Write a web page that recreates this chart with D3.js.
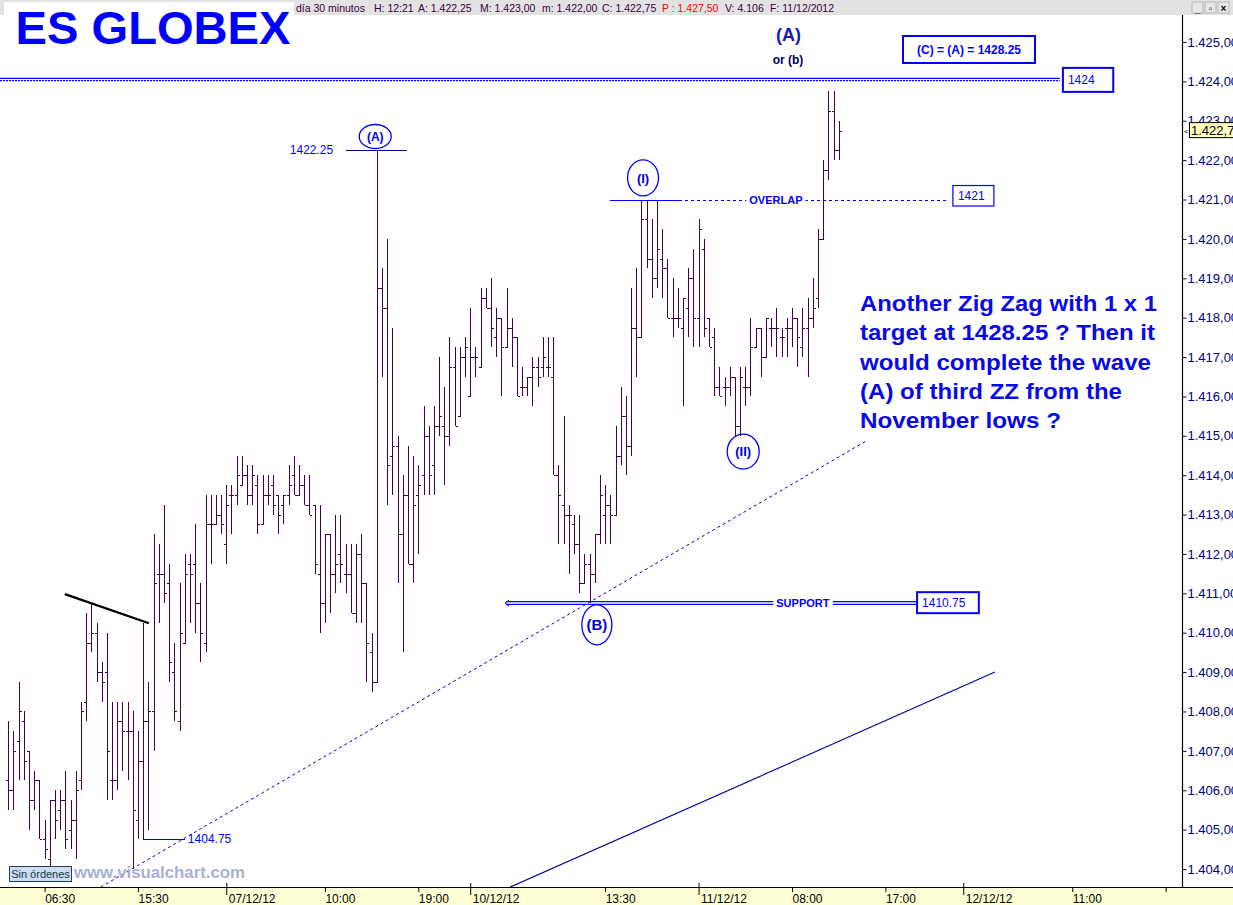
<!DOCTYPE html>
<html>
<head>
<meta charset="utf-8">
<script src="https://cdn.jsdelivr.net/npm/d3@7"></script>
<style>
  html, body { margin: 0; padding: 0; background: #fff; overflow: hidden; }
  svg { display: block; font-family: "Liberation Sans", Arial, sans-serif; }
</style>
</head>
<body>
<svg id="chart" width="1233" height="905"></svg>
<script>
// 30 minute OHLC bars, ES Globex, 06/12/12 03:00 -> 11/12/12 ~12:00
const opens = [
  1406.25,1406.0,1407.25,1407.75,1407.0,1405.75,1406.25,1404.75,1404.25,1405.75,
  1405.5,1405.75,1405.0,1405.25,1406.25,1408.25,1409.75,1410.0,1409.0,1409.0,
  1406.25,1406.25,1407.75,1407.5,1407.5,1405.25,1406.75,1407.75,1408.0,1411.5,
  1411.5,1411.25,1409.0,1407.75,1409.75,1411.75,1411.75,1410.75,1409.75,1412.75,
  1412.75,1413.0,1412.25,1413.5,1413.5,1413.75,1414.0,1413.5,1413.75,1412.75,
  1413.5,1413.75,1413.5,1413.25,1413.5,1414.0,1413.5,1413.75,1413.25,1413.25,
  1411.5,1410.75,1412.5,1411.5,1412.0,1411.5,1411.5,1410.5,1412.0,1411.25,
  1409.5,1408.75,1418.75,1418.25,1414.5,1414.75,1412.5,1413.5,1411.75,1413.5,
  1414.0,1415.0,1414.25,1415.25,1415.25,1415.0,1416.75,1415.5,1417.0,1416.0,
  1417.0,1416.75,1418.5,1418.25,1417.5,1418.0,1417.25,1417.75,1417.5,1416.25,
  1416.25,1416.5,1416.75,1416.75,1416.75,1416.5,1414.0,1413.25,1413.0,1412.75,
  1412.25,1411.25,1411.75,1411.5,1412.5,1413.0,1413.25,1413.0,1414.5,1415.5,
  1414.75,1417.75,1417.5,1420.5,1419.5,1419.0,1419.5,1419.25,1418.0,1418.0,
  1417.75,1418.25,1419.0,1418.0,1419.75,1418.0,1417.5,1416.25,1416.25,1416.25,
  1416.5,1415.25,1416.25,1416.25,1417.25,1417.75,1417.0,1417.75,1417.75,1417.5,
  1417.75,1417.75,1418.0,1417.25,1417.75,1418.0,1418.5,1420.0,1421.75,1423.25,
  1422.25
];
const highs = [
  1407.75,1407.5,1408.75,1408.0,1407.0,1406.5,1406.25,1405.25,1405.75,1406.0,
  1406.0,1406.5,1405.75,1406.5,1408.25,1410.5,1410.75,1410.25,1409.25,1410.0,
  1408.25,1408.25,1408.25,1408.25,1408.0,1407.5,1410.25,1408.75,1412.5,1412.25,
  1413.25,1411.75,1409.75,1411.25,1412.0,1412.0,1412.75,1411.25,1413.5,1413.5,
  1413.5,1413.5,1413.75,1413.75,1414.5,1414.5,1414.25,1414.25,1414.0,1414.0,
  1414.0,1414.0,1413.5,1413.5,1414.25,1414.5,1414.25,1414.0,1414.0,1413.25,
  1413.25,1412.5,1412.5,1413.0,1413.0,1412.25,1412.25,1412.25,1412.5,1411.25,
  1410.0,1422.25,1419.25,1420.0,1417.75,1415.0,1414.0,1414.75,1414.5,1414.25,
  1415.75,1415.25,1415.75,1417.0,1416.25,1417.5,1417.25,1417.25,1417.5,1418.25,
  1417.25,1418.75,1418.75,1419.0,1418.25,1418.0,1418.75,1418.0,1417.5,1416.75,
  1416.5,1417.0,1417.0,1417.5,1417.5,1417.5,1414.25,1415.5,1413.25,1413.0,
  1413.0,1412.0,1412.0,1412.5,1414.0,1413.75,1413.5,1415.25,1416.25,1416.0,
  1418.75,1419.25,1421.0,1421.0,1420.5,1421.0,1420.25,1419.5,1419.0,1418.75,
  1418.5,1419.25,1419.75,1420.5,1420.0,1418.0,1417.75,1416.75,1416.5,1416.75,
  1416.5,1416.75,1416.75,1418.0,1417.75,1417.75,1418.0,1418.0,1418.25,1417.75,
  1418.0,1418.25,1418.0,1418.25,1418.5,1419.0,1420.25,1422.0,1423.75,1423.75,
  1423.0
];
const lows = [
  1405.5,1405.5,1406.25,1406.25,1405.0,1405.5,1404.75,1404.25,1404.0,1404.75,
  1405.0,1404.5,1404.5,1404.25,1406.0,1407.75,1409.5,1408.75,1408.25,1405.75,
  1405.75,1406.0,1406.5,1406.25,1404.0,1404.75,1404.75,1405.0,1407.0,1410.25,
  1410.75,1408.75,1407.75,1407.5,1409.75,1410.25,1410.0,1409.25,1409.5,1411.75,
  1412.75,1412.5,1411.75,1412.5,1413.25,1413.75,1413.25,1413.25,1412.5,1412.75,
  1413.25,1413.0,1412.5,1412.75,1413.25,1413.5,1413.5,1413.25,1413.0,1411.5,
  1410.0,1410.25,1410.5,1411.0,1411.25,1411.0,1410.5,1410.25,1410.25,1408.75,
  1408.5,1408.75,1416.5,1413.25,1413.5,1411.25,1409.5,1411.75,1411.25,1412.0,
  1413.5,1413.5,1413.5,1415.0,1413.75,1414.75,1415.25,1415.5,1416.5,1416.0,
  1416.5,1416.75,1418.25,1417.25,1417.0,1416.0,1417.25,1416.75,1416.0,1416.0,
  1416.0,1415.75,1416.25,1416.5,1416.5,1414.0,1412.25,1412.25,1411.5,1412.0,
  1411.0,1411.25,1410.75,1411.25,1412.25,1412.25,1412.25,1413.0,1414.25,1414.0,
  1414.5,1416.5,1417.5,1419.25,1418.5,1418.75,1418.5,1418.0,1417.5,1417.75,
  1415.75,1417.5,1417.25,1417.25,1417.5,1417.25,1416.0,1416.0,1415.75,1416.0,
  1415.0,1415.0,1415.75,1416.0,1417.25,1416.5,1417.0,1417.25,1417.0,1417.0,
  1417.0,1417.25,1416.75,1417.0,1416.5,1417.75,1418.25,1420.0,1421.5,1422.0,
  1422.0
];
const closes = [
  1406.0,1407.0,1408.0,1406.75,1405.75,1406.25,1404.75,1404.5,1405.75,1405.25,
  1405.75,1404.75,1405.25,1406.0,1408.0,1409.75,1410.0,1409.0,1408.75,1407.0,
  1406.25,1407.75,1407.5,1407.5,1405.5,1406.75,1407.75,1408.0,1411.25,1411.5,
  1411.0,1409.25,1408.0,1410.0,1411.5,1411.5,1410.75,1410.0,1412.75,1412.75,
  1413.0,1412.75,1413.25,1413.5,1414.0,1414.0,1413.5,1414.0,1412.75,1413.5,
  1413.5,1413.25,1413.0,1413.5,1413.75,1413.5,1413.75,1413.25,1413.0,1411.75,
  1410.75,1412.5,1411.5,1411.75,1411.75,1411.5,1410.5,1412.0,1411.25,1409.75,
  1408.75,1418.75,1418.25,1414.25,1414.75,1412.5,1413.5,1411.75,1413.25,1413.75,
  1415.0,1414.0,1415.25,1415.5,1415.0,1416.75,1415.25,1417.0,1417.25,1417.0,
  1417.0,1418.5,1418.25,1417.75,1418.0,1417.25,1417.75,1417.5,1416.0,1416.25,
  1416.5,1416.75,1416.5,1417.0,1416.75,1414.0,1413.5,1413.0,1413.0,1412.25,
  1411.25,1411.75,1411.5,1412.5,1413.5,1413.25,1413.0,1414.5,1415.5,1414.75,
  1417.75,1417.5,1420.5,1419.5,1419.0,1419.75,1419.25,1418.0,1418.0,1418.0,
  1418.5,1419.0,1418.0,1420.25,1417.75,1417.25,1416.25,1416.0,1416.25,1416.5,
  1415.25,1416.5,1416.25,1417.25,1417.75,1417.0,1418.0,1417.75,1417.75,1417.5,
  1417.75,1418.0,1417.5,1417.75,1418.0,1418.25,1420.0,1421.75,1423.25,1422.25,
  1422.75
];

// time axis (bar index of each tick)
const xTickIndex  = [7, 25, 42, 61, 79, 89, 115, 133, 151, 169, 184, 205, 223];
const xTickLabels = ["06:30","15:30","07/12/12","10:00","19:00","10/12/12","13:30","11/12/12","08:00","17:00","12/12/12","11:00",""];
const xTickIsDay  = [false,false,true,false,false,true,false,true,false,false,true,false,false];

// price axis
const yTicks = [1404,1405,1406,1407,1408,1409,1410,1411,1412,1413,1414,1415,1416,1417,1418,1419,1420,1421,1422,1423,1424,1425];
const lastPrice = 1422.75;

const headerParts = [
  ["día 30 minutos", 296, "#3c003c"], ["H: 12:21", 374, "#3c003c"], ["A: 1.422,25", 418, "#3c003c"],
  ["M: 1.423,00", 480, "#3c003c"], ["m: 1.422,00", 542, "#3c003c"], ["C: 1.422,75", 602, "#3c003c"],
  ["P : 1.427,50", 662, "#ff0000"], ["V: 4.106", 725, "#3c003c"], ["F: 11/12/2012", 770, "#3c003c"]
];
const noteLines = [
  "Another Zig Zag with 1 x 1",
  "target at 1428.25 ? Then it",
  "would complete the wave",
  "(A) of third ZZ from the",
  "November lows ?"
];
const noteWidths = [297, 295, 291, 262, 201];

const W = 1233, H = 905;
const plotRight = 1183, plotTop = 15, plotBottom = 887;
const barColor = "#46004a";
const blue = "#0000ff";

const x = d3.scaleLinear().domain([0, 160]).range([8.3, 838.7]);
const y = d3.scaleLinear().domain([1404, 1425]).range([869, 42]);
const fmt = d3.formatLocale({ decimal: ",", thousands: ".", grouping: [3], currency: ["", ""] }).format(",.2f");

const svg = d3.select("#chart");

// backgrounds
svg.append("rect").attr("width", W).attr("height", H).attr("fill", "#fff");
svg.append("rect").attr("y", plotBottom).attr("width", W).attr("height", H - plotBottom).attr("fill", "#ffffd6");

svg.append("defs").append("clipPath").attr("id", "plotClip")
  .append("rect").attr("x", 0).attr("y", plotTop).attr("width", plotRight).attr("height", plotBottom - plotTop);

const plot = svg.append("g").attr("clip-path", "url(#plotClip)");

// trend lines
const line = (a, b) => plot.append("line")
  .attr("x1", x(a[0])).attr("y1", y(a[1])).attr("x2", x(b[0])).attr("y2", y(b[1]));

line([17.8, 1403.54], [165.3, 1414.87])
  .attr("stroke", "#0000c8").attr("stroke-width", 1).attr("stroke-dasharray", "3,3");
line([96.7, 1403.54], [190.1, 1409.0])
  .attr("stroke", "#000099").attr("stroke-width", 1.1);
line([10.9, 1410.98], [27.1, 1410.24])
  .attr("stroke", "#000").attr("stroke-width", 2.2);

// OHLC bars
const px = v => Math.round(v) + 0.5;
const bars = plot.append("g").attr("stroke", barColor).attr("stroke-width", 1.2).attr("shape-rendering", "crispEdges")
  .selectAll("g").data(d3.range(opens.length)).join("g");
bars.append("line")
  .attr("x1", i => px(x(i))).attr("x2", i => px(x(i)))
  .attr("y1", i => y(highs[i])).attr("y2", i => y(lows[i]));
bars.append("line")
  .attr("x1", i => px(x(i)) - 2.5).attr("x2", i => px(x(i)))
  .attr("y1", i => px(y(opens[i]))).attr("y2", i => px(y(opens[i])));
bars.append("line")
  .attr("x1", i => px(x(i))).attr("x2", i => px(x(i)) + 2.5)
  .attr("y1", i => px(y(closes[i]))).attr("y2", i => px(y(closes[i])));

// annotation helpers
const ann = svg.append("g");
function hline(i0, i1, price, opts = {}) {
  return ann.append("line").attr("x1", x(i0)).attr("x2", x(i1))
    .attr("y1", px(y(price))).attr("y2", px(y(price)))
    .attr("stroke", opts.color || blue).attr("stroke-width", opts.width || 1)
    .attr("stroke-dasharray", opts.dash || null).attr("shape-rendering", "crispEdges");
}
function box(i0, i1, price, label, up, down, bold, size) {
  ann.append("rect").attr("x", x(i0)).attr("y", y(price) - up)
    .attr("width", x(i1) - x(i0)).attr("height", up + down)
    .attr("fill", "#fff").attr("stroke", blue).attr("stroke-width", bold ? 2 : 1.2);
  ann.append("text").attr("x", x(i0) + 5).attr("y", y(price) - up + (up + down) / 2 + 4.5)
    .attr("font-size", size || 12).attr("fill", blue).text(label);
}
function tag(i, price, label, dx, size) {
  const t = ann.append("text").attr("x", x(i) + dx).attr("y", y(price) + 4)
    .attr("text-anchor", "middle").attr("font-size", size || 11).attr("font-weight", "bold")
    .attr("fill", blue).text(label);
  const bb = t.node().getBBox();
  ann.insert("rect", () => t.node()).attr("x", bb.x - 3).attr("y", bb.y).attr("width", bb.width + 6)
    .attr("height", bb.height).attr("fill", "#fff");
}
function ellipseLabel(i, price, rx, ry, label, size) {
  ann.append("ellipse").attr("cx", x(i)).attr("cy", y(price)).attr("rx", rx).attr("ry", ry)
    .attr("fill", "none").attr("stroke", blue).attr("stroke-width", 1.3);
  ann.append("text").attr("x", x(i)).attr("y", y(price) + size * 0.36).attr("text-anchor", "middle")
    .attr("font-size", size).attr("font-weight", "bold").attr("fill", "#0000e0").text(label);
}

// 1424 double line
ann.append("line").attr("x1", x(-1.6)).attr("x2", x(202.6)).attr("y1", y(1424) - 3).attr("y2", y(1424) - 3)
  .attr("stroke", blue).attr("stroke-width", 1.2);
ann.append("line").attr("x1", x(-1.6)).attr("x2", x(202.6)).attr("y1", y(1424) - 0.8).attr("y2", y(1424) - 0.8)
  .attr("stroke", blue).attr("stroke-width", 1.2).attr("stroke-dasharray", "2,1");
box(203.2, 212.9, 1424, "1424", 13.5, 10.5, true, 12);

// support double line
ann.append("line").attr("x1", x(95.9)).attr("x2", x(175.1)).attr("y1", y(1410.75) - 1.5).attr("y2", y(1410.75) - 1.5)
  .attr("stroke", blue).attr("stroke-width", 1.2);
ann.append("line").attr("x1", x(95.9)).attr("x2", x(175.1)).attr("y1", y(1410.75) + 1.2).attr("y2", y(1410.75) + 1.2)
  .attr("stroke", blue).attr("stroke-width", 1.2);
ann.append("path")
  .attr("d", `M${x(95.9) + 3},${y(1410.75) - 3}L${x(95.9) - 1},${y(1410.75)}L${x(95.9) + 3},${y(1410.75) + 3}`)
  .attr("fill", "none").attr("stroke", blue);
tag(153.1, 1410.75, "SUPPORT", 0, 11);
box(175.1, 187.0, 1410.75, "1410.75", 11, 10, true, 12);

// overlap line
hline(115.9, 129.2, 1421, { width: 1.4 });
hline(129.2, 181.3, 1421, { dash: "3,3" });
tag(147.9, 1421, "OVERLAP", 0, 11);
box(182.0, 189.9, 1421, "1421", 14, 6.5, false, 12);

// 1422.25 high
hline(65.1, 76.8, 1422.25, { color: "#000080", width: 1.3 });
ann.append("text").attr("x", x(62.6)).attr("y", y(1422.25) + 4).attr("text-anchor", "end")
  .attr("font-size", 12).attr("fill", blue).text("1422.25");

// 1404.75 low
hline(26.0, 34.0, 1404.75, { width: 1.3 });
ann.append("text").attr("x", x(34.6)).attr("y", y(1404.75) + 4)
  .attr("font-size", 12).attr("fill", blue).text("1404.75");

// wave labels
ellipseLabel(70.7, 1422.6, 16, 12, "(A)", 12);
ellipseLabel(122.3, 1421.55, 15.5, 18, "(I)", 13);
ellipseLabel(141.6, 1414.6, 16, 17.5, "(II)", 13);
ellipseLabel(113.4, 1410.2, 15, 20, "(B)", 15);

// top labels
ann.append("text").attr("x", 788.5).attr("y", 41).attr("text-anchor", "middle")
  .attr("font-size", 18).attr("font-weight", "bold").attr("fill", "#1a1ab0").text("(A)");
ann.append("text").attr("x", 788).attr("y", 64).attr("text-anchor", "middle")
  .attr("font-size", 12).attr("font-weight", "bold").attr("fill", "#000055").text("or (b)");
ann.append("rect").attr("x", 903).attr("y", 36).attr("width", 132).attr("height", 27)
  .attr("fill", "#fff").attr("stroke", blue).attr("stroke-width", 2);
ann.append("text").attr("x", 969).attr("y", 54).attr("text-anchor", "middle")
  .attr("font-size", 12).attr("font-weight", "bold").attr("fill", blue).text("(C) = (A) = 1428.25");

// comment block
ann.selectAll("text.note").data(noteLines).join("text").attr("class", "note")
  .attr("x", 860).attr("y", (d, i) => 311 + i * 29.3)
  .attr("font-size", 22).attr("font-weight", "bold").attr("fill", "#0a0ae6")
  .attr("textLength", (d, i) => noteWidths[i]).attr("lengthAdjust", "spacingAndGlyphs")
  .text(d => d);

// watermark + status box
svg.append("text").attr("x", 74).attr("y", 878).attr("font-size", 17).attr("font-weight", "bold")
  .attr("fill", "#a9b0d6").attr("textLength", 171).attr("lengthAdjust", "spacingAndGlyphs").text("www.visualchart.com");
svg.append("rect").attr("x", 9.5).attr("y", 866.5).attr("width", 62).attr("height", 15)
  .attr("fill", "#cddcee").attr("stroke", "#23405a");
svg.append("text").attr("x", 40.5).attr("y", 878).attr("text-anchor", "middle").attr("font-size", 11)
  .attr("fill", "#0b3b4b").text("Sin órdenes");

// right price axis
const yAxis = svg.append("g").attr("transform", `translate(${plotRight - 0.5},0)`)
  .call(d3.axisRight(y).tickValues(yTicks).tickSize(4).tickPadding(1).tickFormat(fmt));
yAxis.select(".domain").remove();
yAxis.selectAll("line").attr("stroke", "#000080");
yAxis.selectAll("text").attr("font-size", 13).attr("fill", "#000080")
  .attr("font-family", "Liberation Sans, Arial, sans-serif");
svg.append("line").attr("x1", plotRight - 0.5).attr("x2", plotRight - 0.5).attr("y1", plotTop).attr("y2", plotBottom)
  .attr("stroke", "#000").attr("stroke-width", 1.2);

// last price marker
svg.append("rect").attr("x", 1189.5).attr("y", y(lastPrice) - 8).attr("width", 50).attr("height", 15)
  .attr("fill", "#ffffc0").attr("stroke", "#000");
svg.append("text").attr("x", 1191).attr("y", y(lastPrice) + 4.5).attr("font-size", 13).attr("fill", "#000")
  .text(fmt(lastPrice));
svg.append("text").attr("x", 1184).attr("y", y(lastPrice) + 3).attr("font-size", 8).attr("fill", "#000").text("<");

// bottom time axis
const xAxis = svg.append("g").attr("transform", `translate(0,${plotBottom})`)
  .call(d3.axisBottom(x).tickValues(xTickIndex).tickSize(5).tickFormat((d, i) => xTickLabels[i]));
xAxis.select(".domain").remove();
xAxis.selectAll(".tick line").attr("stroke", "#000").attr("y2", (d, i) => xTickIsDay[i] ? 8 : 5)
  .attr("y1", (d, i) => xTickIsDay[i] ? -4 : 0);
xAxis.selectAll(".tick text").attr("text-anchor", "start").attr("x", (d, i) => xTickIsDay[i] ? 2 : 0)
  .attr("y", 16).attr("dy", 0).attr("font-size", 12).attr("fill", "#000")
  .attr("font-family", "Liberation Sans, Arial, sans-serif");
svg.append("line").attr("x1", 0).attr("x2", W).attr("y1", plotBottom + 0.5).attr("y2", plotBottom + 0.5)
  .attr("stroke", "#000").attr("stroke-width", 1.2);

// header bar
svg.append("rect").attr("width", W).attr("height", plotTop).attr("fill", "#e2e2e2");
svg.selectAll("text.hdr").data(headerParts).join("text").attr("class", "hdr")
  .attr("x", d => d[1]).attr("y", 11.5).attr("font-size", 10.5).attr("fill", d => d[2]).text(d => d[0]);
const btns = svg.append("g").attr("transform", "translate(1192,2)");
["_", "▫", "×"].forEach((s, i) => {
  btns.append("rect").attr("x", i * 13).attr("y", 0).attr("width", 11).attr("height", 11)
    .attr("fill", "#e8e8e8").attr("stroke", "#9a9a9a").attr("stroke-width", 0.6);
  btns.append("text").attr("x", i * 13 + 5.5).attr("y", 9.5).attr("text-anchor", "middle")
    .attr("font-size", 10).attr("font-weight", "bold").attr("fill", "#000").text(s);
});

// title
svg.append("rect").attr("x", 4).attr("y", 2).attr("width", 290).attr("height", 13).attr("fill", "#fff");
svg.append("text").attr("x", 15.5).attr("y", 44).attr("font-size", 47).attr("font-weight", "bold")
  .attr("fill", blue).attr("textLength", 275).attr("lengthAdjust", "spacingAndGlyphs").text("ES GLOBEX");
</script>
</body>
</html>
